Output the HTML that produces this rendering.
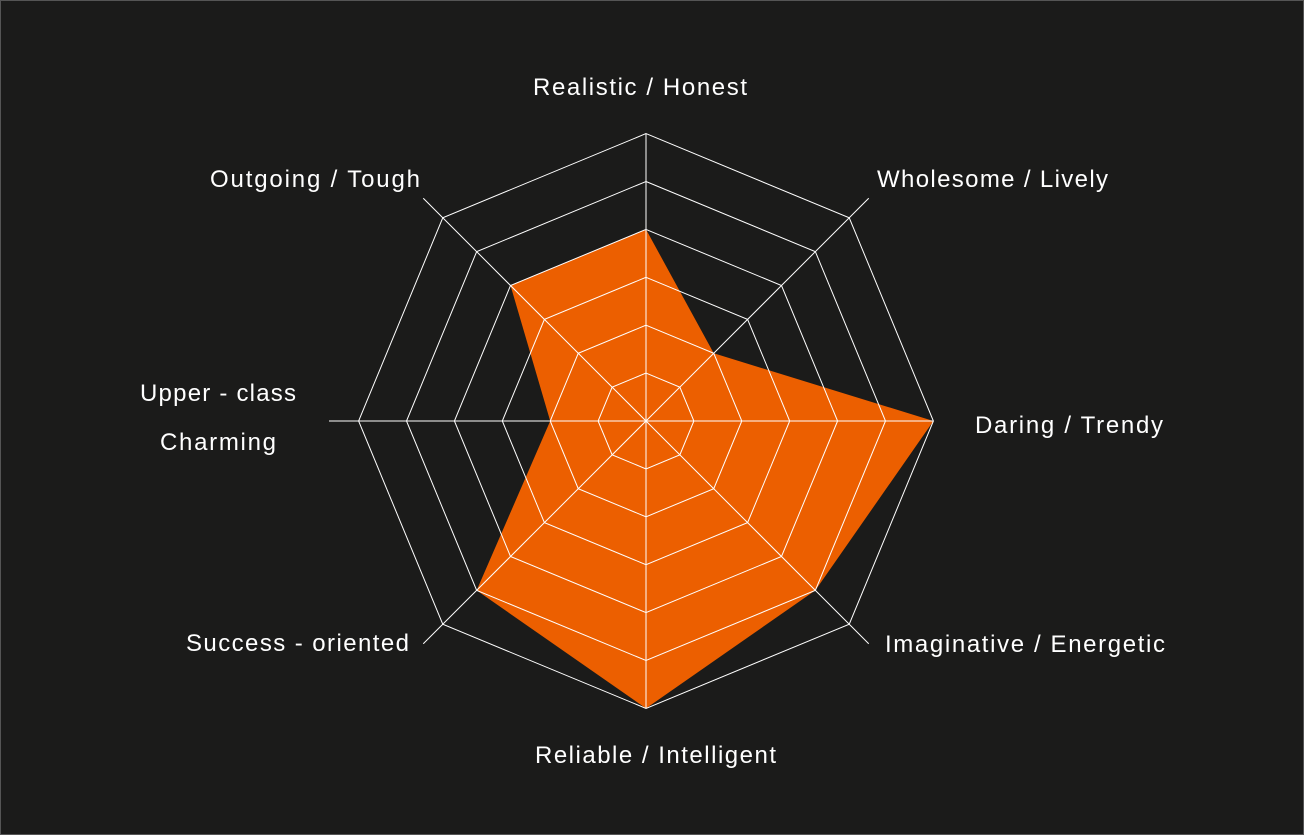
<!DOCTYPE html>
<html><head><meta charset="utf-8"><style>
html,body{margin:0;padding:0;background:#1b1b1a;}
svg{display:block}
text{font-family:"Liberation Sans",sans-serif;font-size:24px;fill:#fff;}
</style></head><body>
<svg width="1304" height="835" viewBox="0 0 1304 835">
<rect x="0.5" y="0.5" width="1303" height="834" fill="#1b1b1a" stroke="#555" stroke-width="1"/>
<g id="g"></g>
<text x="533" y="95" textLength="214" lengthAdjust="spacing">Realistic / Honest</text>
<text x="210" y="187" textLength="210" lengthAdjust="spacing">Outgoing / Tough</text>
<text x="877" y="187" textLength="231" lengthAdjust="spacing">Wholesome / Lively</text>
<text x="140" y="401" textLength="156" lengthAdjust="spacing">Upper - class</text>
<text x="160" y="450" textLength="116" lengthAdjust="spacing">Charming</text>
<text x="975" y="433" textLength="188" lengthAdjust="spacing">Daring / Trendy</text>
<text x="186" y="651" textLength="223" lengthAdjust="spacing">Success - oriented</text>
<text x="885" y="652" textLength="280" lengthAdjust="spacing">Imaginative / Energetic</text>
<text x="535" y="763" textLength="241" lengthAdjust="spacing">Reliable / Intelligent</text>
</svg>
<script>
var cx=646,cy=421,s=47.9,g=document.getElementById('g'),ns='http://www.w3.org/2000/svg';
function pt(i,r){var a=-Math.PI/2+i*Math.PI/4;return [cx+r*Math.cos(a),cy+r*Math.sin(a)];}
var d=[4,2,6,5,6,5,2,4],p=[];
for(var i=0;i<8;i++){var q=pt(i,d[i]*s);p.push(q.join(','));}
var e=document.createElementNS(ns,'polygon');e.setAttribute('points',p.join(' '));e.setAttribute('fill','#ec5f00');g.appendChild(e);
for(var k=1;k<=6;k++){var pp=[];for(var i=0;i<8;i++)pp.push(pt(i,k*s).join(','));
var r=document.createElementNS(ns,'polygon');r.setAttribute('points',pp.join(' '));r.setAttribute('fill','none');r.setAttribute('stroke','#fff');r.setAttribute('stroke-width','1');g.appendChild(r);}
var ext=[287,315,287,315,287,315,317,315];
for(var i=0;i<8;i++){var q=pt(i,ext[i]);var l=document.createElementNS(ns,'line');l.setAttribute('x1',cx);l.setAttribute('y1',cy);l.setAttribute('x2',q[0]);l.setAttribute('y2',q[1]);l.setAttribute('stroke','#fff');l.setAttribute('stroke-width','1');g.appendChild(l);}
</script>
</body></html>
